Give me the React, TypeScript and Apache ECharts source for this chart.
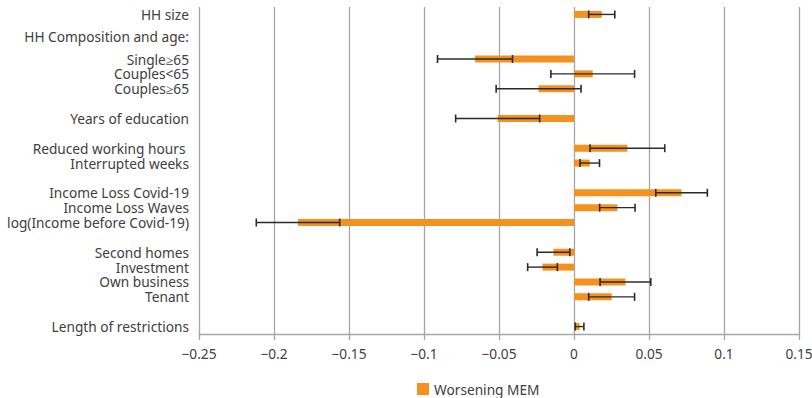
import React, { useEffect, useRef } from "react";
import * as echarts from "echarts";

const categories: string[] = [
  "HH size",
  "HH Composition and age:",
  "",
  "Single≥65",
  "Couples<65",
  "Couples≥65",
  "",
  "Years of education",
  "",
  "Reduced working hours ",
  "Interrupted weeks",
  "",
  "Income Loss Covid-19",
  "Income Loss Waves",
  "log(Income before Covid-19)",
  "",
  "Second homes",
  "Investment",
  "Own business",
  "Tenant",
  "",
  "Length of restrictions",
];

const groupLabel = "HH Composition and age:";

const worseningMEM: (number | null)[] = [
  0.0185, null, null, -0.066, 0.0125, -0.0236, null, -0.0509, null, 0.0356,
  0.0105, null, 0.0717, 0.0289, -0.184, null, -0.0137, -0.021, 0.0343, 0.0251,
  null, 0.0037,
];

const errorMargin: (number | null)[] = [
  0.0087, null, null, 0.025, 0.0279, 0.0283, null, 0.028, null, 0.0249,
  0.0065, null, 0.0172, 0.0118, 0.0278, null, 0.0109, 0.0099, 0.0169, 0.0153,
  null, 0.0029,
];

const xTicks = { min: -0.25, max: 0.15, interval: 0.05 };
const seriesName = "Worsening MEM";

const FONT = "Noto Sans";
const FS = 13.7;
const TEXT = "#404040";
const GRIDC = "#A6A6A6";
const ORANGE = "#F5911E";

export default function App() {
  const ref = useRef<HTMLDivElement>(null);
  useEffect(() => {
    if (!ref.current) return;
    const chart = echarts.init(ref.current, null, { renderer: "svg" });
    const errData: number[][] = [];
    worseningMEM.forEach((v, i) => {
      const e = errorMargin[i];
      if (v !== null && e !== null) errData.push([i, v - e, v + e]);
    });
    chart.setOption({
      animation: false,
      textStyle: { fontFamily: FONT },
      grid: {
        left: 199,
        right: 13,
        top: 7,
        bottom: 64,
        containLabel: false,
        outerBoundsMode: "none",
      },
      legend: {
        data: [seriesName],
        left: 417,
        top: 381,
        padding: 0,
        icon: "rect",
        itemWidth: 12,
        itemHeight: 12,
        itemGap: 8,
        textStyle: { fontFamily: FONT, fontSize: FS, color: TEXT, lineHeight: 16 },
      },
      xAxis: {
        type: "value",
        min: xTicks.min,
        max: xTicks.max,
        interval: xTicks.interval,
        axisLine: { show: true, lineStyle: { color: GRIDC, width: 1.3 } },
        axisTick: { show: true, length: 6, lineStyle: { color: GRIDC, width: 1.3 } },
        splitLine: { show: true, lineStyle: { color: GRIDC, width: 1.3 } },
        axisLabel: {
          fontFamily: FONT,
          fontSize: FS,
          color: TEXT,
          margin: 12,
          formatter: (v: number) => {
            const r = parseFloat(v.toFixed(2));
            if (r === 0) return "0";
            return (r < 0 ? "\u2212" : "") + String(Math.abs(r));
          },
        },
      },
      yAxis: {
        type: "category",
        inverse: true,
        data: categories,
        axisLine: { show: false },
        axisTick: { show: false },
        splitLine: { show: false },
        axisLabel: {
          fontFamily: FONT,
          fontSize: FS,
          color: TEXT,
          margin: 10,
          interval: 0,
          lineHeight: 14,
          verticalAlign: "middle",
          formatter: (v: string) => (v === groupLabel ? "\n" + v : v),
        },
      },
      series: [
        {
          name: seriesName,
          type: "bar",
          data: worseningMEM,
          barWidth: 7,
          itemStyle: { color: ORANGE },
        },
        {
          name: "err",
          type: "custom",
          data: errData,
          encode: { x: [1, 2], y: 0 },
          z: 10,
          renderItem: (params: any, api: any) => {
            const idx = api.value(0);
            const lo = api.coord([api.value(1), idx]);
            const hi = api.coord([api.value(2), idx]);
            const h = 4;
            const style = { stroke: "#2B2B2B", lineWidth: 1.4 };
            return {
              type: "group",
              children: [
                { type: "line", shape: { x1: lo[0], y1: lo[1], x2: hi[0], y2: hi[1] }, style },
                { type: "line", shape: { x1: lo[0], y1: lo[1] - h, x2: lo[0], y2: lo[1] + h }, style: { ...style, lineWidth: 1.6 } },
                { type: "line", shape: { x1: hi[0], y1: hi[1] - h, x2: hi[0], y2: hi[1] + h }, style: { ...style, lineWidth: 1.6 } },
              ],
            };
          },
        },
      ],
    });
    return () => chart.dispose();
  }, []);
  return (
    <div
      ref={ref}
      style={{ position: "absolute", left: 0, top: 0, width: 812, height: 398 }}
    />
  );
}
